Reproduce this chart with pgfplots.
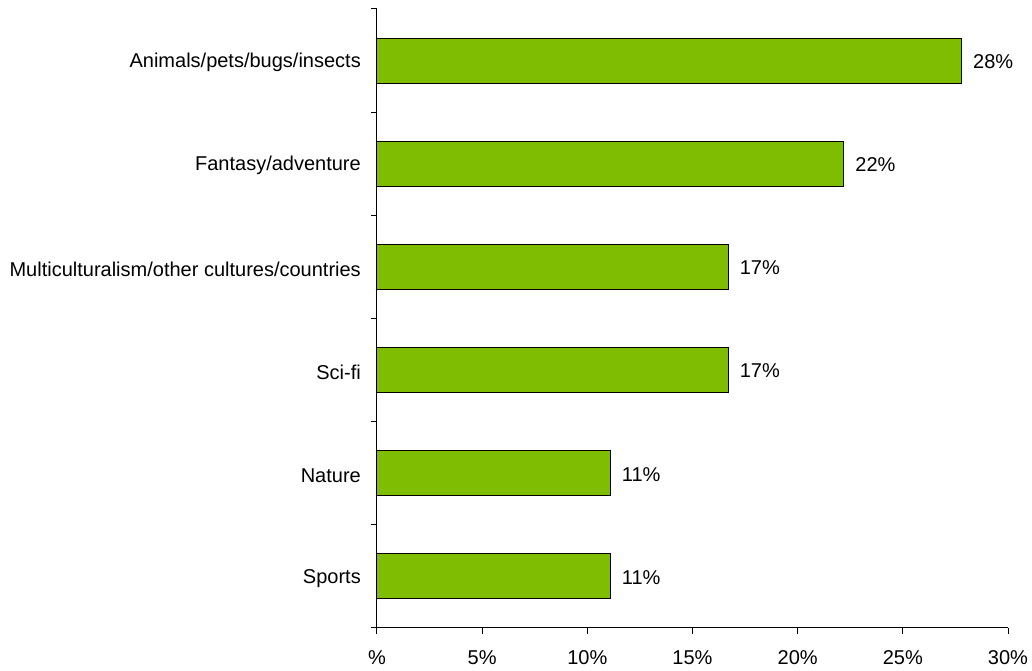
\documentclass[border=0pt]{standalone}
\usepackage{pgfplots}
\pgfplotsset{compat=1.18}
\usepackage{fontspec}
\setmainfont{Liberation Sans}
\definecolor{bargreen}{RGB}{127,189,3}
\begin{document}
\begin{tikzpicture}
\begin{axis}[
  scale only axis,
  width=631pt, height=619pt,
  xmin=0, xmax=30,
  ymin=-0.5, ymax=5.5,
  axis x line*=bottom,
  axis y line*=left,
  axis line style={line width=1pt, black},
  xtick={0,5,...,30},
  xticklabels={\%,5\%,10\%,15\%,20\%,25\%,30\%},
  ytick={-0.5,0.5,...,5.5},
  yticklabels={},
  extra y ticks={0,...,5},
  extra y tick labels={Sports,Nature,Sci-fi,Multiculturalism/other cultures/countries,Fantasy/adventure,Animals/pets/bugs/insects},
  extra y tick style={tick style={draw=none}},
  tick align=outside,
  major tick length=6pt,
  tick style={line width=1pt, black},
  every tick label/.append style={font=\fontsize{20}{24}\selectfont},
  yticklabel style={inner sep=0pt, xshift=-10pt, yshift=-2pt},
  xticklabel style={inner sep=0pt, yshift=-16pt},
  /pgf/number format/assume math mode=true,
  xbar,
  bar width=45pt,
  point meta=explicit symbolic,
  nodes near coords,
  every node near coord/.append style={font=\fontsize{20}{24}\selectfont, inner sep=0pt, anchor=west, xshift=11pt, yshift=-1pt, black},
  clip=false,
]
\addplot[fill=bargreen, draw=black, line width=1pt] coordinates {
  (11.1,0) [11\%]
  (11.1,1) [11\%]
  (16.7,2) [17\%]
  (16.7,3) [17\%]
  (22.2,4) [22\%]
  (27.8,5) [28\%]
};
\end{axis}
\pgfresetboundingbox
\useasboundingbox ([xshift=-377pt,yshift=9pt]current axis.north west) rectangle ([xshift=24pt,yshift=-43pt]current axis.south east);
\end{tikzpicture}
\end{document}
